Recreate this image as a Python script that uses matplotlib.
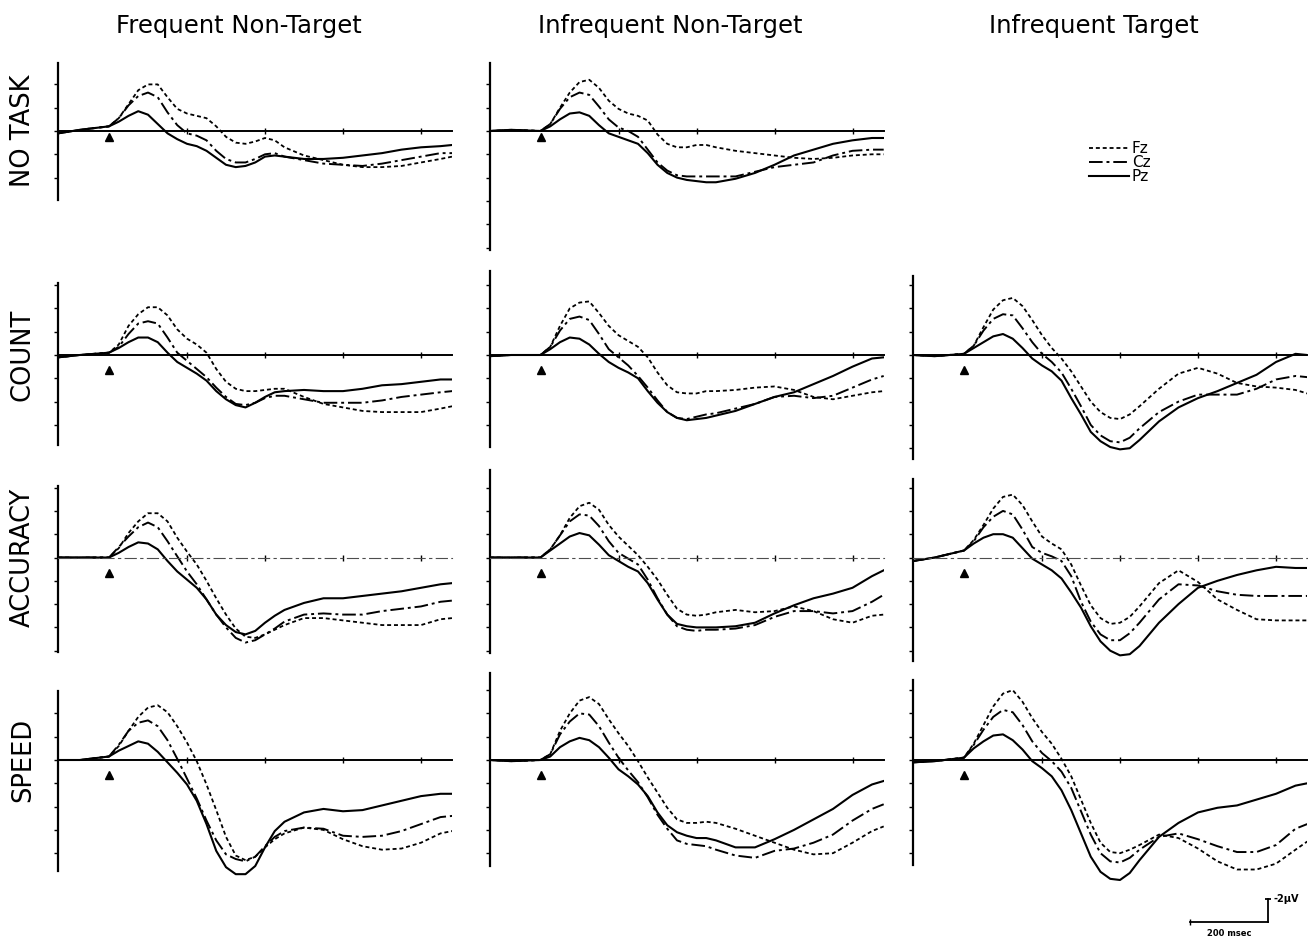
import matplotlib.pyplot as plt

# time points (ms after stimulus); values in microvolts, negative plotted upward
t = [-130, -75, 0, 25, 50, 75, 100, 125, 150, 175, 200, 225, 250, 275, 300, 325,
     350, 375, 400, 425, 450, 500, 550, 600, 650, 700, 750, 800, 850, 880]

# NO TASK
notask_freq_fz = [0.2, -0.1, -0.4, -1.1, -2.3, -3.5, -4.0, -4.0, -2.9, -1.9, -1.5, -1.3, -1.1, -0.4, 0.5, 1.0,
                  1.1, 0.9, 0.6, 0.8, 1.4, 2.1, 2.5, 2.9, 3.1, 3.1, 3.0, 2.7, 2.4, 2.2]
notask_freq_cz = [0.2, -0.1, -0.4, -1.1, -2.2, -3.0, -3.3, -2.9, -1.6, -0.5, 0.2, 0.4, 0.8, 1.7, 2.4, 2.7,
                  2.7, 2.4, 2.0, 1.9, 2.2, 2.5, 2.8, 2.9, 3.0, 2.8, 2.5, 2.2, 1.9, 1.9]
notask_freq_pz = [0.2, -0.1, -0.4, -0.8, -1.3, -1.7, -1.4, -0.6, 0.2, 0.7, 1.1, 1.3, 1.7, 2.3, 2.9, 3.1,
                  3.0, 2.7, 2.2, 2.1, 2.2, 2.4, 2.4, 2.3, 2.1, 1.9, 1.6, 1.4, 1.3, 1.2]
notask_infnt_fz = [0.0, -0.1, 0.0, -0.6, -2.0, -3.3, -4.2, -4.4, -3.7, -2.6, -1.9, -1.5, -1.3, -0.9, 0.3, 1.1,
                   1.4, 1.4, 1.2, 1.2, 1.4, 1.7, 1.9, 2.1, 2.3, 2.4, 2.3, 2.1, 2.0, 2.0]
notask_infnt_cz = [0.0, -0.1, 0.0, -0.6, -1.9, -2.9, -3.3, -3.1, -2.1, -1.0, -0.3, 0.0, 0.5, 1.6, 2.7, 3.4,
                   3.8, 3.9, 3.9, 3.9, 3.9, 3.9, 3.5, 3.1, 2.9, 2.7, 2.1, 1.7, 1.6, 1.6]
notask_infnt_pz = [0.0, -0.1, 0.0, -0.4, -1.0, -1.5, -1.6, -1.3, -0.5, 0.2, 0.5, 0.8, 1.1, 1.9, 2.9, 3.6,
                   4.0, 4.2, 4.3, 4.4, 4.4, 4.1, 3.6, 2.9, 2.1, 1.6, 1.1, 0.8, 0.6, 0.6]

# COUNT
count_freq_fz = [0.2, 0.0, -0.2, -0.9, -2.5, -3.5, -4.1, -4.1, -3.4, -2.2, -1.4, -0.9, -0.2, 1.2, 2.3, 2.9,
                 3.1, 3.1, 3.0, 2.9, 2.9, 3.6, 4.2, 4.5, 4.8, 4.9, 4.9, 4.9, 4.6, 4.4]
count_freq_cz = [0.2, 0.0, -0.2, -0.7, -1.8, -2.7, -2.9, -2.7, -1.5, -0.2, 0.5, 1.2, 1.9, 2.8, 3.6, 4.2,
                 4.3, 4.1, 3.7, 3.5, 3.5, 3.8, 4.1, 4.1, 4.1, 3.9, 3.6, 3.4, 3.2, 3.1]
count_freq_pz = [0.2, 0.0, -0.2, -0.6, -1.1, -1.5, -1.5, -1.1, -0.2, 0.6, 1.1, 1.6, 2.2, 3.1, 3.8, 4.3,
                 4.5, 4.1, 3.6, 3.2, 3.1, 3.0, 3.1, 3.1, 2.9, 2.6, 2.5, 2.3, 2.1, 2.1]
count_infnt_fz = [0.1, 0.0, 0.0, -0.7, -2.5, -4.0, -4.5, -4.6, -3.6, -2.5, -1.7, -1.2, -0.7, 0.2, 1.5, 2.6,
                  3.2, 3.3, 3.3, 3.1, 3.1, 3.0, 2.8, 2.7, 3.0, 3.6, 3.8, 3.5, 3.2, 3.1]
count_infnt_cz = [0.1, 0.0, 0.0, -0.7, -2.1, -3.1, -3.3, -3.0, -1.8, -0.5, 0.2, 0.9, 1.8, 2.8, 3.9, 4.9,
                  5.4, 5.5, 5.3, 5.1, 5.0, 4.6, 4.2, 3.6, 3.5, 3.7, 3.5, 2.8, 2.1, 1.8]
count_infnt_pz = [0.1, 0.0, 0.0, -0.5, -1.1, -1.5, -1.4, -0.9, -0.1, 0.6, 1.1, 1.5, 2.0, 3.1, 4.1, 4.9,
                  5.4, 5.6, 5.5, 5.4, 5.2, 4.8, 4.2, 3.6, 3.2, 2.5, 1.8, 1.0, 0.3, 0.2]
count_inft_fz = [0.0, 0.1, -0.1, -0.8, -2.4, -3.9, -4.7, -4.9, -4.2, -3.0, -1.7, -0.6, 0.3, 1.4, 2.7, 4.0,
                 4.9, 5.4, 5.5, 5.1, 4.4, 2.9, 1.6, 1.1, 1.6, 2.4, 2.7, 2.8, 3.0, 3.3]
count_inft_cz = [0.0, 0.1, -0.1, -0.8, -2.1, -3.1, -3.5, -3.4, -2.3, -1.1, -0.1, 0.6, 1.5, 2.9, 4.4, 6.0,
                 6.9, 7.4, 7.5, 7.1, 6.3, 4.9, 4.0, 3.4, 3.4, 3.4, 2.9, 2.1, 1.8, 1.9]
count_inft_pz = [0.0, 0.1, -0.1, -0.6, -1.1, -1.6, -1.8, -1.4, -0.6, 0.3, 0.9, 1.4, 2.2, 3.7, 5.1, 6.6,
                 7.4, 7.9, 8.1, 8.0, 7.3, 5.7, 4.5, 3.7, 3.1, 2.4, 1.7, 0.6, -0.1, 0.0]

# ACCURACY
acc_freq_fz = [0.0, 0.0, 0.0, -0.8, -2.1, -3.1, -3.8, -3.8, -3.1, -1.7, -0.5, 0.6, 2.0, 3.5, 4.9, 6.1,
               6.8, 6.9, 6.6, 6.2, 5.8, 5.2, 5.2, 5.4, 5.6, 5.8, 5.8, 5.8, 5.3, 5.2]
acc_freq_cz = [0.0, 0.0, 0.0, -0.9, -1.8, -2.6, -3.0, -2.6, -1.4, -0.1, 1.2, 2.3, 3.6, 4.9, 6.0, 6.9,
               7.3, 7.1, 6.6, 6.1, 5.5, 4.9, 4.8, 4.9, 4.9, 4.6, 4.4, 4.2, 3.8, 3.7]
acc_freq_pz = [0.0, 0.0, 0.0, -0.4, -0.9, -1.3, -1.2, -0.7, 0.3, 1.2, 1.9, 2.6, 3.6, 4.9, 5.8, 6.4,
               6.6, 6.3, 5.6, 5.0, 4.5, 3.9, 3.5, 3.5, 3.3, 3.1, 2.9, 2.6, 2.3, 2.2]
acc_infnt_fz = [0.0, 0.0, 0.0, -0.7, -1.9, -3.4, -4.4, -4.7, -4.1, -2.8, -1.8, -1.0, -0.2, 0.8, 1.9, 3.2,
                4.4, 4.9, 5.0, 4.9, 4.7, 4.5, 4.7, 4.6, 4.2, 4.6, 5.3, 5.6, 5.0, 4.9]
acc_infnt_cz = [0.0, 0.0, 0.0, -0.7, -1.9, -3.1, -3.7, -3.6, -2.7, -1.4, -0.4, 0.1, 0.6, 1.9, 3.5, 4.9,
                5.9, 6.2, 6.3, 6.2, 6.2, 6.1, 5.8, 5.1, 4.6, 4.6, 4.8, 4.6, 3.8, 3.2]
acc_infnt_pz = [0.0, 0.0, 0.0, -0.6, -1.2, -1.8, -2.1, -1.9, -1.1, -0.2, 0.3, 0.8, 1.2, 2.2, 3.6, 4.9,
                5.7, 5.9, 6.0, 6.0, 6.0, 5.9, 5.6, 4.8, 4.1, 3.5, 3.1, 2.6, 1.6, 1.1]
acc_inft_fz = [0.3, 0.0, -0.6, -1.5, -2.8, -4.2, -5.2, -5.4, -4.5, -3.1, -1.8, -1.2, -0.7, 0.6, 2.4, 4.1,
               5.2, 5.7, 5.6, 5.1, 4.2, 2.2, 1.1, 2.1, 3.6, 4.5, 5.3, 5.4, 5.4, 5.4]
acc_inft_cz = [0.3, 0.0, -0.6, -1.4, -2.6, -3.5, -4.0, -3.7, -2.4, -0.9, -0.4, -0.1, 0.3, 1.6, 3.8, 5.5,
               6.6, 7.1, 7.1, 6.5, 5.6, 3.6, 2.3, 2.4, 2.9, 3.2, 3.3, 3.3, 3.3, 3.3]
acc_inft_pz = [0.3, 0.0, -0.6, -1.2, -1.7, -2.0, -2.0, -1.7, -0.8, 0.1, 0.6, 1.1, 1.8, 3.0, 4.3, 5.9,
               7.2, 8.0, 8.4, 8.3, 7.6, 5.6, 4.0, 2.6, 2.0, 1.5, 1.1, 0.8, 0.9, 0.9]

# SPEED
speed_freq_fz = [0.0, 0.0, -0.3, -1.2, -2.5, -3.7, -4.5, -4.7, -4.1, -2.9, -1.5, 0.1, 2.1, 4.3, 6.6, 8.2,
                 8.6, 8.3, 7.5, 6.8, 6.3, 5.8, 6.0, 6.8, 7.4, 7.7, 7.6, 7.1, 6.3, 6.1]
speed_freq_cz = [0.0, 0.0, -0.3, -1.3, -2.5, -3.2, -3.4, -2.9, -1.7, -0.1, 1.6, 3.3, 5.2, 6.9, 8.1, 8.5,
                 8.7, 8.3, 7.4, 6.6, 6.1, 5.8, 5.9, 6.5, 6.6, 6.5, 6.1, 5.5, 4.9, 4.8]
speed_freq_pz = [0.0, 0.0, -0.3, -0.8, -1.2, -1.6, -1.4, -0.7, 0.2, 1.1, 2.1, 3.5, 5.5, 7.8, 9.2, 9.8,
                 9.8, 9.1, 7.5, 6.1, 5.3, 4.5, 4.2, 4.4, 4.3, 3.9, 3.5, 3.1, 2.9, 2.9]
speed_infnt_fz = [0.0, 0.1, 0.0, -0.5, -2.5, -4.0, -5.1, -5.4, -4.8, -3.5, -2.3, -1.2, 0.1, 1.5, 2.8, 4.1,
                  5.1, 5.4, 5.4, 5.3, 5.4, 5.9, 6.5, 7.1, 7.7, 8.1, 8.0, 7.1, 6.1, 5.7]
speed_infnt_cz = [0.0, 0.1, 0.0, -0.5, -2.2, -3.3, -4.0, -3.9, -2.9, -1.5, -0.2, 0.9, 1.9, 3.2, 4.7, 5.9,
                  6.9, 7.2, 7.3, 7.4, 7.7, 8.2, 8.4, 7.8, 7.6, 7.1, 6.4, 5.2, 4.2, 3.8]
speed_infnt_pz = [0.0, 0.1, 0.0, -0.3, -1.1, -1.6, -1.9, -1.7, -1.1, -0.2, 0.8, 1.4, 2.1, 3.1, 4.5, 5.6,
                  6.2, 6.5, 6.7, 6.7, 6.9, 7.5, 7.5, 6.8, 6.0, 5.1, 4.2, 3.0, 2.1, 1.8]
speed_inft_fz = [0.2, 0.1, -0.2, -1.4, -3.0, -4.6, -5.7, -6.0, -5.0, -3.6, -2.4, -1.4, -0.1, 1.4, 3.4, 5.4,
                 7.1, 7.9, 8.0, 7.7, 7.3, 6.4, 6.7, 7.6, 8.7, 9.4, 9.4, 8.9, 7.7, 7.0]
speed_inft_cz = [0.2, 0.1, -0.2, -1.3, -2.6, -3.7, -4.3, -4.1, -3.0, -1.6, -0.6, 0.1, 1.0, 2.4, 4.4, 6.4,
                 8.0, 8.7, 8.8, 8.4, 7.7, 6.6, 6.3, 6.8, 7.4, 7.9, 7.9, 7.3, 5.9, 5.5]
speed_inft_pz = [0.2, 0.1, -0.2, -1.0, -1.6, -2.1, -2.2, -1.7, -0.9, 0.1, 0.7, 1.4, 2.6, 4.3, 6.3, 8.3,
                 9.6, 10.2, 10.3, 9.7, 8.6, 6.6, 5.4, 4.5, 4.1, 3.9, 3.4, 2.9, 2.2, 2.0]

col_titles = ['Frequent Non-Target', 'Infrequent Non-Target', 'Infrequent Target']
row_titles = ['NO TASK', 'COUNT', 'ACCURACY', 'SPEED']

# (row, col, fz, cz, pz, y-axis extent)
panels = [
    (0, 0, notask_freq_fz, notask_freq_cz, notask_freq_pz, (-5.8, 5.9)),
    (0, 1, notask_infnt_fz, notask_infnt_cz, notask_infnt_pz, (-5.8, 10.2)),
    (1, 0, count_freq_fz, count_freq_cz, count_freq_pz, (-6.2, 7.7)),
    (1, 1, count_infnt_fz, count_infnt_cz, count_infnt_pz, (-7.2, 7.9)),
    (1, 2, count_inft_fz, count_inft_cz, count_inft_pz, (-6.8, 8.9)),
    (2, 0, acc_freq_fz, acc_freq_cz, acc_freq_pz, (-6.1, 8.1)),
    (2, 1, acc_infnt_fz, acc_infnt_cz, acc_infnt_pz, (-7.5, 8.2)),
    (2, 2, acc_inft_fz, acc_inft_cz, acc_inft_pz, (-6.7, 8.9)),
    (3, 0, speed_freq_fz, speed_freq_cz, speed_freq_pz, (-5.9, 9.5)),
    (3, 1, speed_infnt_fz, speed_infnt_cz, speed_infnt_pz, (-7.5, 9.1)),
    (3, 2, speed_inft_fz, speed_inft_cz, speed_inft_pz, (-6.9, 9.0)),
]

W, H = 1308, 941
PX_MS, PX_UV = 0.39, 11.65      # pixels per ms / per microvolt
T0, T1 = -130, 880
V_TOP, V_BOT = -8, 11
stim_x = [109, 540.5, 964]        # pixel x of stimulus onset per column
zero_y = [131, 355, 557.5, 760]   # pixel y of baseline per row

FZ_LS = (0, (2.2, 1.6))
CZ_LS = (0, (7, 2, 1.5, 2))

fig = plt.figure(figsize=(W / 100, H / 100), dpi=100)

legend_lines = None
for row, col, fz, cz, pz, (ytop, ybot) in panels:
    left = stim_x[col] + T0 * PX_MS
    width = (T1 - T0) * PX_MS
    top = zero_y[row] + V_TOP * PX_UV
    height = (V_BOT - V_TOP) * PX_UV
    ax = fig.add_axes([left / W, 1 - (top + height) / H, width / W, height / H])
    ax.patch.set_visible(False)
    ax.set_xlim(T0, T1)
    ax.set_ylim(V_BOT, V_TOP)

    l1, = ax.plot(t, fz, color='k', lw=1.3, ls=FZ_LS)
    l2, = ax.plot(t, cz, color='k', lw=1.4, ls=CZ_LS)
    l3, = ax.plot(t, pz, color='k', lw=1.5)
    if legend_lines is None:
        legend_lines = [l1, l2, l3]

    # stimulus onset marker
    ax.plot(0, 0.55 if row == 0 else 1.3, marker='^', ms=5.5, color='k')

    for s in ['top', 'right']:
        ax.spines[s].set_visible(False)
    ax.spines['left'].set_bounds(ytop, ybot)
    ax.spines['left'].set_linewidth(1.6)
    ax.spines['bottom'].set_position(('data', 0))
    ax.spines['bottom'].set_bounds(T0, T1)
    if row == 2:
        ax.spines['bottom'].set_linestyle((0, (10, 4, 2, 4)))
        ax.spines['bottom'].set_linewidth(0.8)
        ax.spines['bottom'].set_color('0.3')
    else:
        ax.spines['bottom'].set_linewidth(1.4)

    ax.set_xticks([200, 400, 600, 800])
    ax.set_yticks([v for v in range(-8, 12, 2) if ytop <= v <= ybot])
    ax.set_xticklabels([])
    ax.set_yticklabels([])
    ax.tick_params(axis='x', direction='inout', length=5, width=1)
    ax.tick_params(axis='y', direction='out', length=3, width=1)

for col, title in enumerate(col_titles):
    fig.text(stim_x[col] + 130, H - 26, title, transform=None, ha='center',
             va='center', fontsize=17.5)
for row, title in enumerate(row_titles):
    fig.text(23, H - zero_y[row], title, transform=None, ha='center',
             va='center', rotation=90, fontsize=18.5)

fig.legend(legend_lines, ['Fz', 'Cz', 'Pz'], loc='upper left',
           bbox_to_anchor=(1089 / W, 1 - 141 / H), frameon=False, fontsize=11,
           handlelength=2.6, labelspacing=-0.05, handletextpad=0.2,
           borderpad=0, borderaxespad=0)

# scale bar: 200 msec / -2 uV
sb = fig.add_axes([1180 / W, 1 - 940 / H, 128 / W, 60 / H])
sb.set_xlim(-10 / PX_MS, 118 / PX_MS)
sb.set_ylim(18 / PX_UV, -42 / PX_UV)
sb.axis('off')
sb.plot([0, 200], [0, 0], color='k', lw=1.3)
sb.plot([200, 200], [0, -2], color='k', lw=1.3)
sb.plot(0, 0, marker='|', ms=5, color='k')
sb.plot(200, -2, marker='_', ms=5, color='k', mew=1.3)
sb.text(215, -2, '-2µV', fontsize=7, fontweight='bold', va='center')
sb.text(100, 0.6, '200 msec', fontsize=6, fontweight='bold', ha='center', va='top')

fig.savefig('out.png', dpi=100)
